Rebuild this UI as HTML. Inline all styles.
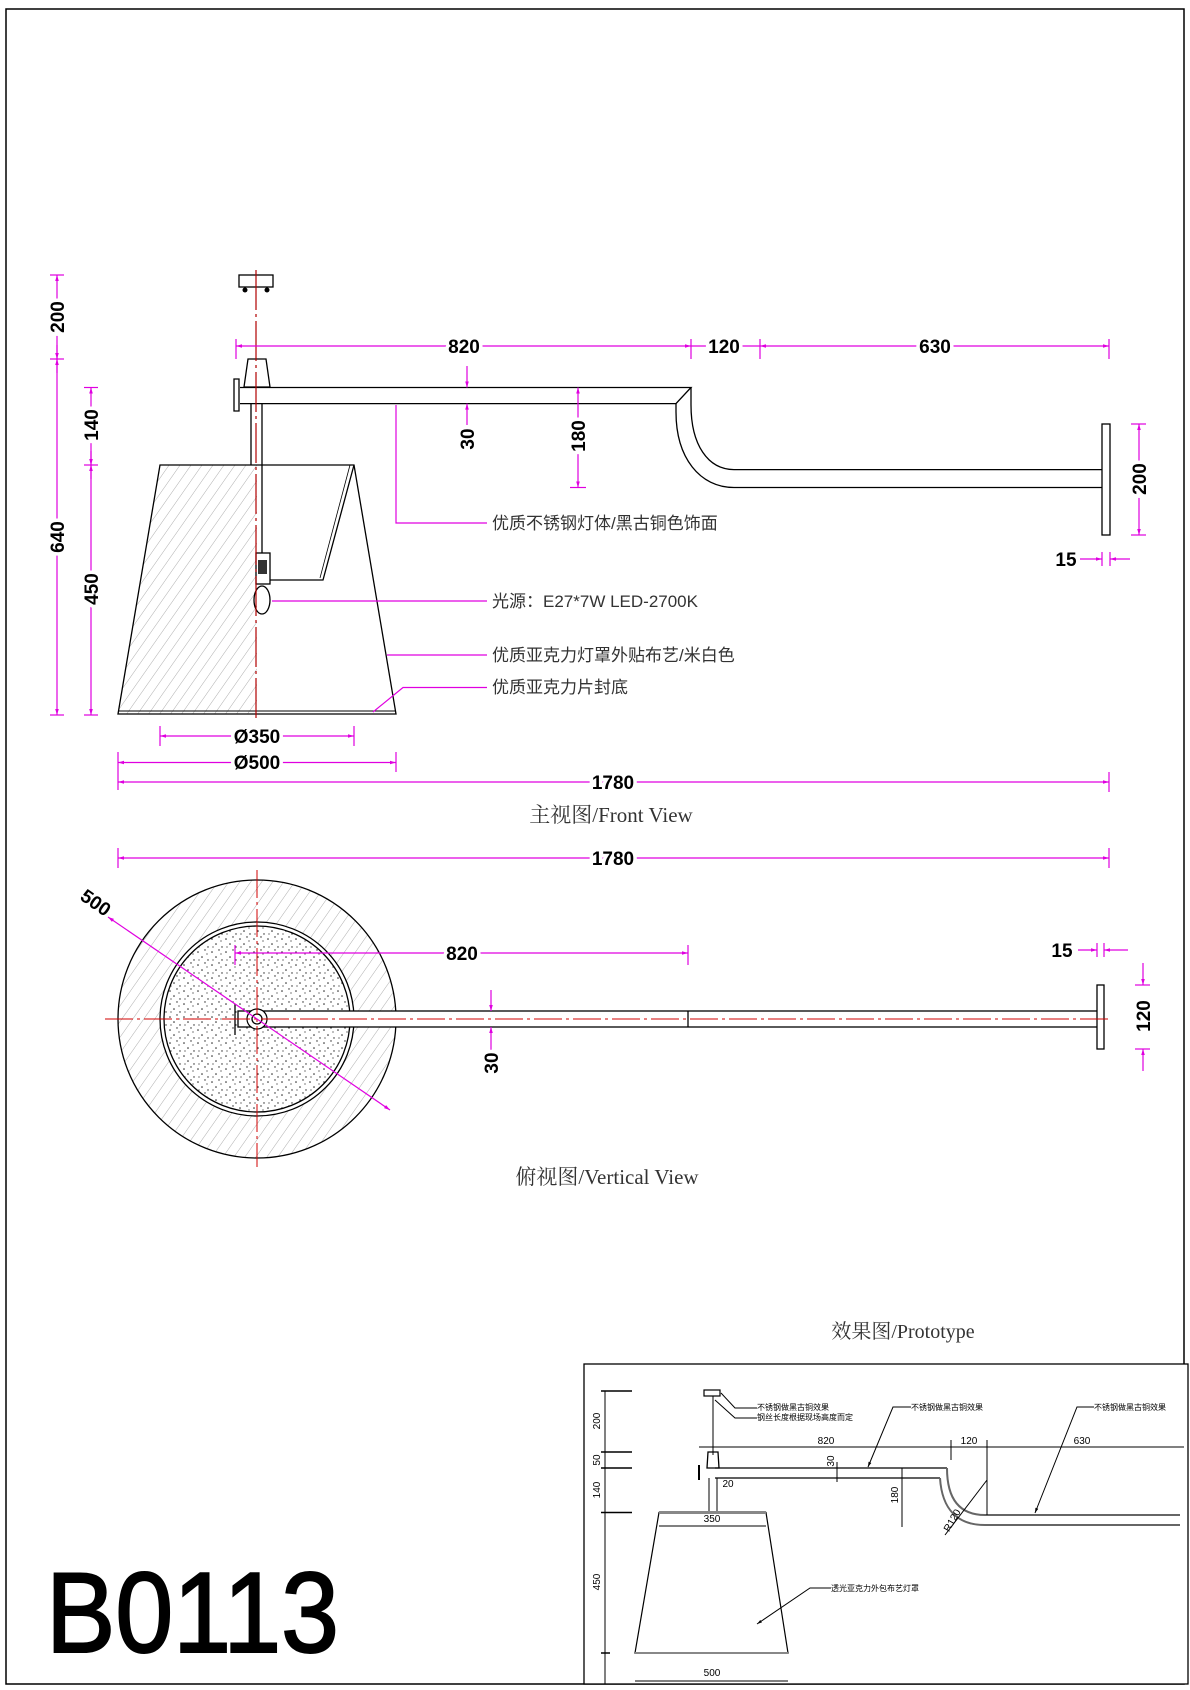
<!DOCTYPE html>
<html><head><meta charset="utf-8"><style>
html,body{margin:0;padding:0;background:#fff}
svg{display:block}
.d{font-family:"Liberation Sans Narrow","Liberation Sans",sans-serif;font-weight:bold;font-size:19px;fill:#000;stroke:#fff;stroke-width:7;paint-order:stroke;text-anchor:middle}
.c{font-family:"Liberation Sans","Noto Sans CJK SC",sans-serif;font-size:17px;fill:#333}
.m{stroke:#e000e0;stroke-width:1.2;fill:none}
.k{stroke:#000;stroke-width:1.3;fill:none}
.r{stroke:#d00000;stroke-width:1;fill:none;stroke-dasharray:28 4 3 4}
.s{font-family:"Liberation Sans","Noto Sans CJK SC",sans-serif;font-size:8px;fill:#000}
.p{font-family:"Liberation Sans",sans-serif;font-size:10px;fill:#000;text-anchor:middle}
</style></head><body>
<svg width="1190" height="1690" viewBox="0 0 1190 1690" xmlns="http://www.w3.org/2000/svg">
<defs>
<pattern id="h" width="9" height="9" patternUnits="userSpaceOnUse" patternTransform="rotate(35)">
<line x1="0" y1="0" x2="0" y2="9" stroke="#999" stroke-width="0.8"/></pattern>
<pattern id="dots" width="14" height="13" patternUnits="userSpaceOnUse">
<circle cx="2" cy="3" r="0.8" fill="#222"/><circle cx="9" cy="1" r="0.7" fill="#222"/><circle cx="6" cy="8" r="0.8" fill="#222"/><circle cx="12" cy="11" r="0.7" fill="#222"/><circle cx="3" cy="11" r="0.6" fill="#222"/><circle cx="11" cy="5" r="0.6" fill="#222"/></pattern>
<marker id="a" viewBox="0 0 10 10" refX="10" refY="5" markerWidth="9" markerHeight="6" orient="auto-start-reverse" markerUnits="userSpaceOnUse"><path d="M0,2 L10,5 L0,8z" fill="#e000e0"/></marker>
<marker id="b" viewBox="0 0 10 10" refX="10" refY="5" markerWidth="8" markerHeight="5" orient="auto-start-reverse" markerUnits="userSpaceOnUse"><path d="M0,2 L10,5 L0,8z" fill="#000"/></marker>
</defs>
<rect x="6" y="9" width="1178" height="1675" fill="none" stroke="#000" stroke-width="1.5"/>

<!-- FRONT VIEW -->
<path d="M160,465 L257,465 L257,714 L118,714 Z" fill="url(#h)"/>
<path d="M160,465 L354,465 L396,714 L118,714 Z" class="k"/>
<line x1="118" y1="711" x2="396" y2="711" stroke="#000" stroke-width="1"/>
<path d="M354,465 L323,580 L262,580" class="k"/>
<path d="M350,465 L320,578" stroke="#000" stroke-width="0.8"/>
<rect x="239" y="275" width="34" height="12" fill="#fff" stroke="#000" stroke-width="1.3"/>
<circle cx="245" cy="290" r="2.5" fill="#000"/><circle cx="267" cy="290" r="2.5" fill="#000"/>
<path d="M248,359 L266,359 L270,387 L244,387 Z" class="k"/>
<path d="M240,387.5 L691,387.5 L676,403.6 L240,403.6" class="k"/>
<path d="M239,379 L234,379 L234,411 L239,411 Z M239,383 L239,407" class="k"/>
<path d="M251,403.6 L251,465 M262,403.6 L262,553" class="k"/>
<rect x="256" y="553" width="14" height="31" fill="#fff" stroke="#000" stroke-width="1.3"/>
<rect x="258" y="560" width="9" height="14" fill="#333"/>
<ellipse cx="262" cy="600" rx="8" ry="14" class="k"/>
<line x1="256" y1="270" x2="256" y2="718" stroke="#b00000" stroke-width="1.2" stroke-dasharray="40 4 3 4"/>
<path d="M691,387.5 L691,405 C691,445 708,469.6 734,469.6 L1103,469.6" class="k"/>
<path d="M676,403.6 L676,412 C676,458 700,487.5 734,487.5 L1103,487.5" class="k"/>
<rect x="1102" y="424" width="8" height="111" fill="#fff" stroke="#000" stroke-width="1.3"/>
<line x1="57" y1="275" x2="57" y2="715" class="m" marker-start="url(#a)" marker-end="url(#a)"/>
<line x1="50" y1="275" x2="64" y2="275" class="m"/><line x1="50" y1="359" x2="64" y2="359" class="m"/><line x1="50" y1="715" x2="64" y2="715" class="m"/>
<line x1="57" y1="345" x2="57" y2="359" class="m" marker-end="url(#a)"/>
<line x1="57" y1="373" x2="57" y2="359" class="m" marker-end="url(#a)"/>
<text class="d" transform="translate(64,317) rotate(-90)">200</text>
<text class="d" transform="translate(64,537) rotate(-90)">640</text>
<line x1="91" y1="387.5" x2="91" y2="715" class="m" marker-start="url(#a)" marker-end="url(#a)"/>
<line x1="91" y1="451" x2="91" y2="465" class="m" marker-end="url(#a)"/>
<line x1="91" y1="479" x2="91" y2="465" class="m" marker-end="url(#a)"/>
<line x1="84" y1="387.5" x2="98" y2="387.5" class="m"/><line x1="84" y1="465" x2="98" y2="465" class="m"/><line x1="84" y1="715" x2="98" y2="715" class="m"/>
<text class="d" transform="translate(98,425) rotate(-90)">140</text>
<text class="d" transform="translate(98,589) rotate(-90)">450</text>
<line x1="236" y1="346" x2="691" y2="346" class="m" marker-start="url(#a)" marker-end="url(#a)"/>
<line x1="760" y1="346" x2="1109" y2="346" class="m" marker-start="url(#a)" marker-end="url(#a)"/>
<line x1="691" y1="346" x2="760" y2="346" class="m"/>
<line x1="236" y1="339" x2="236" y2="359" class="m"/><line x1="691" y1="339" x2="691" y2="359" class="m"/><line x1="760" y1="339" x2="760" y2="359" class="m"/><line x1="1109" y1="339" x2="1109" y2="359" class="m"/>
<text class="d" x="464" y="353">820</text><text class="d" x="724" y="353">120</text><text class="d" x="935" y="353">630</text>
<line x1="467" y1="366" x2="467" y2="387.5" class="m" marker-end="url(#a)"/>
<line x1="467" y1="425" x2="467" y2="403.6" class="m" marker-end="url(#a)"/>
<text class="d" transform="translate(474,439) rotate(-90)">30</text>
<line x1="578" y1="387.5" x2="578" y2="487.5" class="m" marker-start="url(#a)" marker-end="url(#a)"/>
<line x1="570" y1="487.5" x2="586" y2="487.5" class="m"/>
<text class="d" transform="translate(585,436) rotate(-90)">180</text>
<line x1="1139" y1="424" x2="1139" y2="535" class="m" marker-start="url(#a)" marker-end="url(#a)"/>
<line x1="1131" y1="424" x2="1146" y2="424" class="m"/><line x1="1131" y1="535" x2="1146" y2="535" class="m"/>
<text class="d" transform="translate(1146,479) rotate(-90)">200</text>
<line x1="1080" y1="559" x2="1102" y2="559" class="m" marker-end="url(#a)"/>
<line x1="1130" y1="559" x2="1110" y2="559" class="m" marker-end="url(#a)"/>
<line x1="1102" y1="552" x2="1102" y2="566" class="m"/><line x1="1110" y1="552" x2="1110" y2="566" class="m"/>
<text class="d" x="1066" y="566">15</text>
<path d="M396,405 L396,523 L487,523" class="m"/>
<text class="c" x="492" y="529">优质不锈钢灯体/黑古铜色饰面</text>
<path d="M272,601 L487,601" class="m"/>
<text class="c" x="492" y="607">光源：E27*7W LED-2700K</text>
<path d="M387,655 L487,655" class="m"/>
<text class="c" x="492" y="661">优质亚克力灯罩外贴布艺/米白色</text>
<path d="M373,712 L403,687.5 L487,687.5" class="m"/>
<text class="c" x="492" y="693">优质亚克力片封底</text>
<line x1="160" y1="736" x2="354" y2="736" class="m" marker-start="url(#a)" marker-end="url(#a)"/>
<line x1="160" y1="726" x2="160" y2="746" class="m"/><line x1="354" y1="726" x2="354" y2="746" class="m"/>
<text class="d" x="257" y="743">Ø350</text>
<line x1="118" y1="762.5" x2="396" y2="762.5" class="m" marker-start="url(#a)" marker-end="url(#a)"/>
<line x1="118" y1="752" x2="118" y2="790" class="m"/><line x1="396" y1="752" x2="396" y2="772" class="m"/>
<text class="d" x="257" y="769">Ø500</text>
<line x1="118" y1="782" x2="1109" y2="782" class="m" marker-start="url(#a)" marker-end="url(#a)"/>
<line x1="1109" y1="772" x2="1109" y2="792" class="m"/>
<text class="d" x="613" y="789">1780</text>
<text x="611" y="822" font-family="Liberation Serif,'Noto Serif CJK SC',serif" font-size="21" fill="#333" text-anchor="middle">主视图/Front View</text>

<!-- TOP VIEW -->
<line x1="118" y1="858" x2="1109" y2="858" class="m" marker-start="url(#a)" marker-end="url(#a)"/>
<line x1="118" y1="848" x2="118" y2="868" class="m"/><line x1="1109" y1="848" x2="1109" y2="868" class="m"/>
<text class="d" x="613" y="865">1780</text>
<circle cx="257" cy="1019" r="139" fill="url(#h)" stroke="#000" stroke-width="1.3"/>
<circle cx="257" cy="1019" r="97" fill="#fff" stroke="#000" stroke-width="1.3"/>
<circle cx="257" cy="1019" r="93" fill="url(#dots)" stroke="#000" stroke-width="1.3"/>
<rect x="238" y="1011" width="864" height="16" fill="#fff" stroke="#000" stroke-width="1.3"/>
<line x1="688" y1="1011" x2="688" y2="1027" stroke="#000" stroke-width="1.3"/>
<path d="M235,1004 L235,1035" class="k" stroke-width="2"/>
<circle cx="257" cy="1019" r="10" fill="#fff" stroke="#000" stroke-width="1.2"/>
<circle cx="257" cy="1019" r="5" class="k"/>
<rect x="1097" y="985" width="7" height="64" fill="#fff" stroke="#000" stroke-width="1.3"/>
<line x1="105" y1="1019" x2="1109" y2="1019" class="r"/>
<line x1="257" y1="870" x2="257" y2="1167" class="r"/>
<line x1="108" y1="917" x2="390" y2="1110" class="m" marker-start="url(#a)" marker-end="url(#a)"/>
<text class="d" transform="translate(92,908) rotate(35)">500</text>
<line x1="235" y1="953" x2="688" y2="953" class="m" marker-start="url(#a)" marker-end="url(#a)"/>
<line x1="235" y1="945" x2="235" y2="965" class="m"/><line x1="688" y1="945" x2="688" y2="965" class="m"/>
<text class="d" x="462" y="960">820</text>
<line x1="491" y1="990" x2="491" y2="1011" class="m" marker-end="url(#a)"/>
<line x1="491" y1="1050" x2="491" y2="1027" class="m" marker-end="url(#a)"/>
<text class="d" transform="translate(498,1063) rotate(-90)">30</text>
<line x1="1078" y1="950" x2="1097" y2="950" class="m" marker-end="url(#a)"/>
<line x1="1128" y1="950" x2="1104" y2="950" class="m" marker-end="url(#a)"/>
<line x1="1097" y1="943" x2="1097" y2="957" class="m"/><line x1="1104" y1="943" x2="1104" y2="957" class="m"/>
<text class="d" x="1062" y="957">15</text>
<line x1="1143" y1="963" x2="1143" y2="985" class="m" marker-end="url(#a)"/>
<line x1="1143" y1="1071" x2="1143" y2="1049" class="m" marker-end="url(#a)"/>
<line x1="1135" y1="985" x2="1150" y2="985" class="m"/><line x1="1135" y1="1049" x2="1150" y2="1049" class="m"/>
<text class="d" transform="translate(1150,1016) rotate(-90)">120</text>
<text x="607" y="1184" font-family="Liberation Serif,'Noto Serif CJK SC',serif" font-size="21" fill="#333" text-anchor="middle">俯视图/Vertical View</text>

<!-- PROTOTYPE -->
<text x="903" y="1338" font-family="Liberation Serif,'Noto Serif CJK SC',serif" font-size="20" fill="#333" text-anchor="middle">效果图/Prototype</text>
<rect x="584" y="1364" width="604" height="320" fill="#fff" stroke="#000" stroke-width="1.3"/>
<line x1="605" y1="1391" x2="605" y2="1684" stroke="#000" stroke-width="1"/>
<g stroke="#000" stroke-width="1.5"><line x1="601" y1="1391" x2="632" y2="1391"/><line x1="601" y1="1452" x2="632" y2="1452"/><line x1="601" y1="1468" x2="632" y2="1468"/><line x1="601" y1="1512.5" x2="632" y2="1512.5"/><line x1="601" y1="1653" x2="610" y2="1653"/></g>
<text class="p" transform="translate(600,1421) rotate(-90)">200</text>
<text class="p" transform="translate(600,1460) rotate(-90)">50</text>
<text class="p" transform="translate(600,1490) rotate(-90)">140</text>
<text class="p" transform="translate(600,1582) rotate(-90)">450</text>
<rect x="704" y="1390" width="16" height="6" fill="#fff" stroke="#000" stroke-width="1.2"/>
<line x1="713" y1="1396" x2="713" y2="1455" stroke="#000" stroke-width="1"/>
<path d="M708,1452 L718,1452 L719,1468 L707,1468Z" class="k"/>
<path d="M699,1465 L699,1480" stroke="#000" stroke-width="2"/>
<path d="M709,1478 L709,1512 M717,1478 L717,1512" stroke="#000" stroke-width="1"/>
<path d="M715,1468 L947,1468 M715,1478 L940,1478" class="k" stroke="#666" stroke-width="2"/>
<path d="M947,1468 C947,1500 960,1515 985,1515 L1180,1515" stroke="#666" stroke-width="2" fill="none"/>
<path d="M940,1478 C942,1510 958,1525 985,1525 L1180,1525" stroke="#666" stroke-width="2" fill="none"/>
<line x1="699" y1="1447" x2="1184" y2="1447" stroke="#000" stroke-width="1"/>
<line x1="951" y1="1440" x2="951" y2="1460" stroke="#000"/><line x1="987" y1="1440" x2="987" y2="1515" stroke="#000"/>
<text class="p" x="826" y="1444">820</text><text class="p" x="969" y="1444">120</text><text class="p" x="1082" y="1444">630</text>
<line x1="837" y1="1462" x2="837" y2="1482" stroke="#000"/>
<text class="p" transform="translate(834,1461) rotate(-90)">30</text>
<text class="p" x="728" y="1487">20</text>
<line x1="902" y1="1468" x2="902" y2="1527" stroke="#000"/>
<text class="p" transform="translate(898,1495) rotate(-90)">180</text>
<text class="p" transform="translate(955,1522) rotate(-60)">R120</text>
<line x1="945" y1="1535" x2="987" y2="1480" stroke="#000"/>
<path d="M721,1393 L735,1408 L757,1408 M715,1400 L735,1418 L757,1418" stroke="#000" fill="none"/>
<text class="s" x="757" y="1410">不锈钢做黑古铜效果</text>
<text class="s" x="757" y="1420">钢丝长度根据现场高度而定</text>
<path d="M868,1467 L893,1407 L911,1407" stroke="#000" fill="none" marker-start="url(#b)"/>
<text class="s" x="911" y="1410">不锈钢做黑古铜效果</text>
<path d="M1035,1513 L1077,1407 L1094,1407" stroke="#000" fill="none" marker-start="url(#b)"/>
<text class="s" x="1094" y="1410">不锈钢做黑古铜效果</text>
<path d="M659,1512.5 L766,1512.5 L788,1653 L635,1653 Z" fill="none" stroke="#000" stroke-width="1.2"/>
<line x1="659" y1="1512.5" x2="766" y2="1512.5" stroke="#888" stroke-width="3"/>
<line x1="635" y1="1653" x2="788" y2="1653" stroke="#888" stroke-width="2"/>
<line x1="659" y1="1526" x2="766" y2="1526" stroke="#000"/>
<text class="p" x="712" y="1522">350</text>
<path d="M757,1624 L810,1588 L831,1588" stroke="#000" fill="none" marker-start="url(#b)"/>
<text class="s" x="831" y="1591">透光亚克力外包布艺灯罩</text>
<line x1="635" y1="1681" x2="788" y2="1681" stroke="#000"/>
<text class="p" x="712" y="1676">500</text>

<text x="46" y="1652" font-family="Liberation Sans,sans-serif" font-size="114" fill="#000" stroke="#000" stroke-width="2" textLength="293" lengthAdjust="spacingAndGlyphs">B0113</text>
</svg>
</body></html>
